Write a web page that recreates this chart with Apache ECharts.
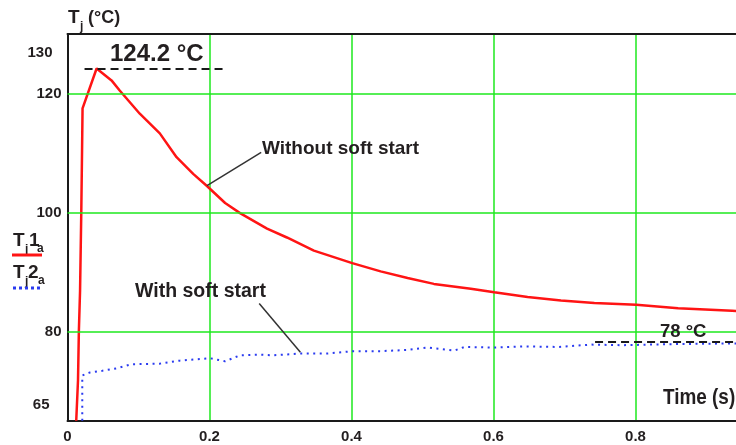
<!DOCTYPE html>
<html>
<head>
<meta charset="utf-8">
<script src="https://cdn.jsdelivr.net/npm/echarts@6/dist/echarts.min.js"></script>
<style>html,body{margin:0;padding:0;background:#fff}#c{width:736px;height:445px}</style>
</head>
<body>
<div id="c"></div>
<script>
// ---- data ----
const timeRed = [0.0123, 0.0148, 0.016, 0.0177, 0.0194, 0.0205, 0.0212, 0.041, 0.062, 0.0735, 0.1018, 0.130, 0.1536, 0.177, 0.196, 0.222, 0.243, 0.281, 0.309, 0.347, 0.401, 0.441, 0.479, 0.516, 0.568, 0.601, 0.648, 0.695, 0.742, 0.801, 0.860, 0.936, 0.944];
const tempRed = [65, 71.8, 80, 86.9, 100, 110.4, 117.5, 124.2, 122.2, 120.5, 116.6, 113.3, 109.3, 106.5, 104.5, 101.6, 99.9, 97.3, 95.8, 93.6, 91.5, 90.1, 89.0, 88.0, 87.2, 86.6, 85.8, 85.2, 84.8, 84.5, 83.9, 83.5, 83.45];
const timeBlue = [0.0208, 0.0208, 0.031, 0.049, 0.069, 0.090, 0.130, 0.158, 0.201, 0.222, 0.243, 0.271, 0.290, 0.328, 0.366, 0.403, 0.441, 0.479, 0.507, 0.545, 0.559, 0.601, 0.644, 0.691, 0.738, 0.78, 0.865, 0.944];
const tempBlue = [65, 72.6, 73.1, 73.4, 73.8, 74.5, 74.6, 75.1, 75.5, 75.0, 76.0, 76.1, 76.0, 76.3, 76.3, 76.7, 76.7, 76.9, 77.3, 76.8, 77.4, 77.3, 77.5, 77.4, 77.8, 77.7, 77.9, 78.0];
const xTickValues = [0, 0.2, 0.4, 0.6, 0.8];
const yLabelValues = [65, 80, 100, 120, 130];
const yGridValues = [80, 100, 120];
const peakTemp = 124.2;
const finalTemp = 78.2;
const seriesNames = ['Tj1a', 'Tj2a'];

const FONT = "'Liberation Sans', Arial, Helvetica, sans-serif";
const TXT = '#231f20';
const GREEN = '#1ee81e';
const X_MAX = 0.9415;

const chart = echarts.init(document.getElementById('c'), null, {renderer: 'canvas'});

function pairs(xs, ys) { return xs.map((x, i) => [x, ys[i]]); }

function txt(x, y, text, size, extra) {
  return Object.assign({
    type: 'text', x: x, y: y, z: 100,
    style: {text: text, font: 'bold ' + size + 'px ' + FONT, fill: TXT, align: 'left', verticalAlign: 'middle'}
  }, extra || {});
}

const option = {
  animation: false,
  backgroundColor: '#fff',
  grid: {left: 67.5, right: 0, top: 34, bottom: 24.25, containLabel: false},
  xAxis: [{
    type: 'value', min: 0, max: X_MAX, interval: 0.2, position: 'bottom',
    axisLine: {show: true, onZero: false, lineStyle: {color: '#1a1a1a', width: 2}},
    axisTick: {show: false},
    splitLine: {show: true, showMaxLine: false, lineStyle: {color: GREEN, width: 1.5}},
    axisLabel: {showMaxLabel: false, margin: 9, color: TXT, fontSize: 15, fontWeight: 'bold', fontFamily: FONT,
      formatter: v => xTickValues.indexOf(+v.toFixed(4)) >= 0 ? String(+v.toFixed(4)) : ''}
  }, {
    type: 'value', min: 0, max: X_MAX, position: 'top',
    axisLine: {show: true, onZero: false, lineStyle: {color: '#1a1a1a', width: 2}},
    axisTick: {show: false}, axisLabel: {show: false}, splitLine: {show: false}
  }],
  yAxis: {
    type: 'value', min: 65, max: 130, interval: 5,
    axisLine: {show: true, onZero: false, lineStyle: {color: '#1a1a1a', width: 2}},
    axisTick: {show: false},
    splitLine: {show: false},
    axisLabel: {
      margin: 6, color: TXT, fontFamily: FONT,
      formatter: v => yLabelValues.indexOf(v) < 0 ? '' : (v === 130 ? '{hi|130}' : (v === 65 ? '{lo|65}' : '{n|' + v + '}')),
      rich: {
        n: {fontSize: 15, fontWeight: 'bold', fontFamily: FONT, color: TXT},
        hi: {fontSize: 15, fontWeight: 'bold', fontFamily: FONT, color: TXT, padding: [38, 9, 0, 0]},
        lo: {fontSize: 15, fontWeight: 'bold', fontFamily: FONT, color: TXT, padding: [0, 12, 32, 0]}
      }
    }
  },
  series: [{
    name: 'grid', type: 'line', data: [], z: 1, silent: true,
    markLine: {
      silent: true, symbol: 'none', animation: false, label: {show: false},
      lineStyle: {color: GREEN, width: 1.5, type: 'solid'},
      data: yGridValues.map(v => ({yAxis: v}))
    }
  }, {
    name: seriesNames[0], type: 'line', showSymbol: false, symbol: 'none', z: 3,
    data: pairs(timeRed, tempRed),
    lineStyle: {color: '#ff1414', width: 2.5},
    markLine: {
      silent: true, symbol: 'none', animation: false, label: {show: false},
      data: [
        [{coord: [0.024, peakTemp], lineStyle: {color: '#1a1a1a', width: 2, type: [8, 5]}}, {coord: [0.225, peakTemp]}],
        [{coord: [0.1965, 104.5], lineStyle: {color: '#333', width: 1.5, type: 'solid'}}, {coord: [0.2728, 110.1]}]
      ]
    }
  }, {
    name: seriesNames[1], type: 'line', showSymbol: false, symbol: 'none', z: 3,
    data: pairs(timeBlue, tempBlue),
    lineStyle: {color: '#2a3bf0', width: 2, type: [2, 4.5]},
    markLine: {
      silent: true, symbol: 'none', animation: false, label: {show: false},
      data: [
        [{coord: [0.743, finalTemp], lineStyle: {color: '#1a1a1a', width: 2, type: [8, 5]}}, {coord: [X_MAX, finalTemp]}],
        [{coord: [0.27, 84.7], lineStyle: {color: '#333', width: 1.5, type: 'solid'}}, {coord: [0.328, 76.5]}]
      ]
    }
  }],
  graphic: [
    // y axis title  Tj (°C)
    txt(68, 18, 'T', 19),
    txt(80, 27, 'j', 12),
    txt(88, 18, '(°C)', 18),
    // legend
    txt(13, 241, 'T', 19),
    txt(25, 250, 'j', 12),
    txt(29, 241, '1', 19),
    txt(37, 249, 'a', 12),
    {type: 'line', z: 100, shape: {x1: 12, y1: 255, x2: 42, y2: 255}, style: {stroke: '#ff1414', lineWidth: 3}},
    txt(13, 273, 'T', 19),
    txt(25, 282, 'j', 12),
    txt(28, 273, '2', 19),
    txt(38, 281, 'a', 12),
    {type: 'line', z: 100, shape: {x1: 13, y1: 288, x2: 43, y2: 288}, style: {stroke: '#2a3bf0', lineWidth: 3, lineDash: [3, 3]}},
    // annotations
    txt(110, 54, peakTemp.toFixed(1) + ' °C', 24),
    txt(262, 149, 'Without soft start', 19),
    txt(135, 292, 'With soft start', 19.5),
    txt(660, 332, '78 °C', 18.5),
    txt(663, 398, 'Time (s)', 22, {scaleX: 0.86})
  ]
};
chart.setOption(option);
</script>
</body>
</html>
